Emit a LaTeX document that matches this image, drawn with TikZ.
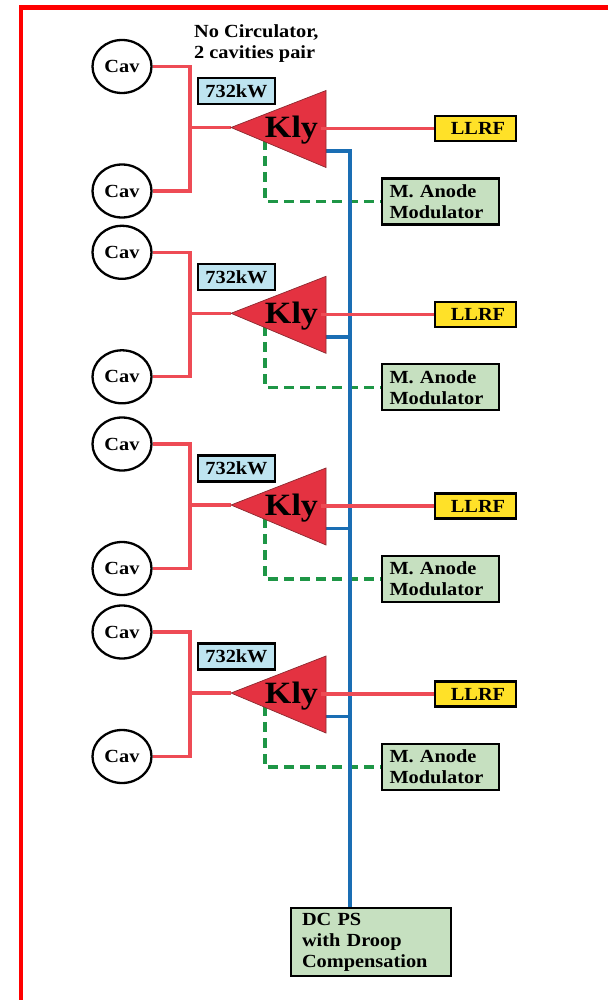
\documentclass[tikz,border=0pt]{standalone}
\usepackage{fontspec}
\setmainfont{Liberation Serif}[FakeStretch=1.1]
\usetikzlibrary{shapes.geometric}
\definecolor{frame}{HTML}{FF0000}
\definecolor{rfred}{HTML}{EE4B55}
\definecolor{klyfill}{HTML}{E43241}
\definecolor{klyedge}{HTML}{8A2A30}
\definecolor{dcblue}{HTML}{1A6EB4}
\definecolor{modgreen}{HTML}{1E9646}
\definecolor{kwblue}{HTML}{BEE4F0}
\definecolor{llrfyellow}{HTML}{FFE128}
\definecolor{modfill}{HTML}{C6E0C0}
\newcommand\lblfont{\fontsize{18.5}{21}\selectfont\bfseries}
\newcommand\klyfont{\fontsize{31}{31}\selectfont\bfseries}
\pgfdeclarelayer{bg}
\pgfsetlayers{bg,main}
\begin{document}
\begin{tikzpicture}[x=1pt,y=-1pt,
  cav/.style={ellipse, draw=black, line width=2.3pt, fill=white, minimum width=59pt, minimum height=53pt, inner sep=0pt, font=\lblfont},
  rfline/.style={draw=rfred, line width=3.2pt},
  dcline/.style={draw=dcblue, line width=3.8pt},
  modline/.style={draw=modgreen, line width=3.2pt, dash pattern=on 10pt off 6pt},
  boxbase/.style={draw=black, line width=2.2pt, inner sep=0pt, font=\lblfont},
  kwbox/.style={boxbase, fill=kwblue, minimum width=77pt, minimum height=26pt},
  llrfbox/.style={boxbase, fill=llrfyellow, minimum width=81pt, minimum height=25pt},
  modbox/.style={boxbase, fill=modfill, minimum width=117pt, minimum height=46pt, align=left, text width=102pt},
  dcbox/.style={boxbase, fill=modfill, minimum width=160pt, minimum height=68pt, align=left, text width=138pt},
  klytri/.style={fill=klyfill, draw=klyedge, line width=0.7pt, line join=miter},
  note/.style={font=\lblfont, align=left, inner sep=0pt}
]
\useasboundingbox (0,0) rectangle (608,1000);
\draw[frame, line width=4.5pt] (21,1000) -- (21,7.5) -- (608,7.5);

\node[note, anchor=north west] (note) at (194,24.5) {No Circulator,\\2 cavities pair};

\node[dcbox] (dcps) at (371,942) {DC PS\\with Droop\\Compensation};

\foreach \n/\by in {1/127.5, 2/313.3, 3/505, 4/693}{
\begin{scope}[shift={(0,\by)}]
  \node[cav] (cavA\n) at (122,-61) {Cav};
  \node[cav] (cavB\n) at (122,63.5) {Cav};
  \coordinate (sp\n) at (190,0);
  \coordinate (tip\n) at (231,0);
  \coordinate (ktop\n) at (326,-37);
  \coordinate (kbot\n) at (326,40);
  \coordinate (kout\n) at (321,1);
  \coordinate (kdc\n) at (323,23.5);
  \coordinate (kg\n) at (265,13);
  \coordinate (bus\n) at (350,23.5);
  \node[kwbox] (kw\n) at (236.5,-36.5) {732kW};
  \node[llrfbox] (llrf\n) at (475.5,1) {\hspace{5pt}LLRF};
  \node[modbox] (mod\n) at (440.5,74) {M. Anode\\Modulator};
  \begin{pgfonlayer}{bg}
    \draw[modline] (kg\n) |- (mod\n.west);
  \end{pgfonlayer}
  \draw[rfline] (cavA\n.east) -| (sp\n) |- (cavB\n.east);
  \draw[rfline] (sp\n) -- (tip\n);
  \filldraw[klytri] (tip\n) -- (ktop\n) -- (kbot\n) -- cycle;
  \draw[rfline] (kout\n) -- (kout\n -| llrf\n.west);
  \node[font=\klyfont, anchor=base, inner sep=0pt] (kly\n) at (291.5,10.5) {Kly};
\end{scope}
}
\begin{pgfonlayer}{bg}
  \draw[dcline] (kdc1) -- (bus1) -- (bus1 |- dcps.north);
  \foreach \n in {2,3,4}{ \draw[dcline] (kdc\n) -- (bus\n); }
\end{pgfonlayer}
\end{tikzpicture}
\end{document}
